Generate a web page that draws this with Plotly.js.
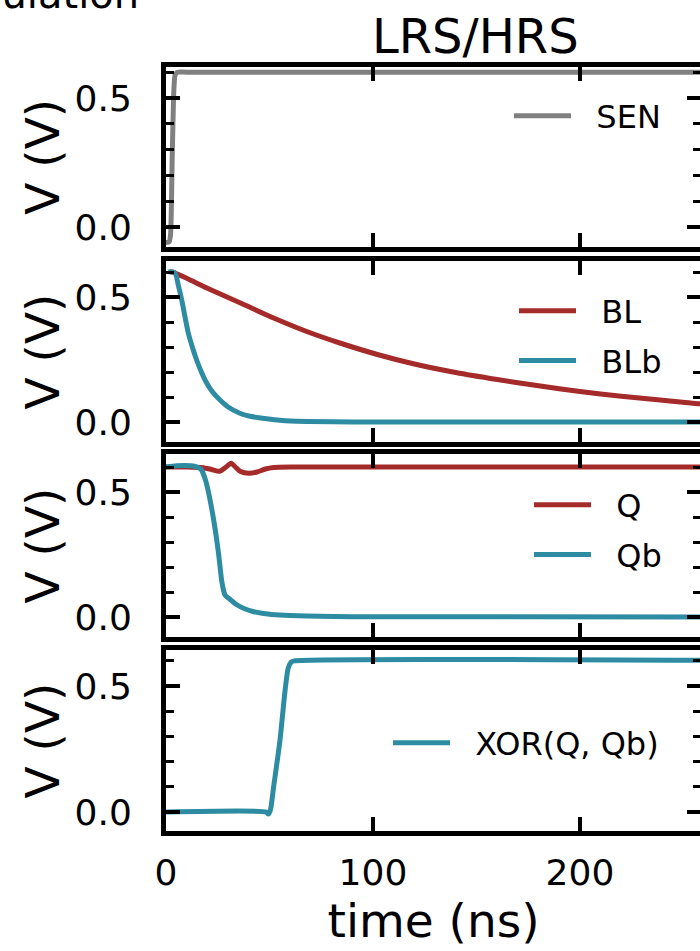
<!DOCTYPE html>
<html>
<head>
<meta charset="utf-8">
<script src="https://cdn.plot.ly/plotly-3.0.1.min.js"></script>
<style>
html, body { margin: 0; padding: 0; overflow: hidden; background: #fff; }
#chart { width: 710px; height: 951px; }
</style>
</head>
<body>
<div id="chart"></div>
<script>
// ---- data (time in ns, voltage in V) ----
const senT = [0, 1.5, 2.2, 3.0, 3.8, 4.4, 5.5, 10, 300];
const senV = [-0.06, -0.058, -0.03, 0.27, 0.53, 0.59, 0.6, 0.6, 0.6];

const blT = [2, 3, 10, 20, 36, 52, 68, 84, 103, 120, 140, 160, 180, 200, 220, 240, 258, 300];
const blV = [0.6, 0.6, 0.575, 0.535, 0.476, 0.416, 0.362, 0.316, 0.268, 0.232, 0.198, 0.17, 0.145, 0.122, 0.103, 0.087, 0.073, 0.05];

const blbT = [1.1, 4.3, 6, 7.6, 9.2, 10.8, 12.8, 14.8, 17.2, 19.7, 22.5, 26.1, 30, 35.7, 40, 45, 48.6, 55, 60, 68, 90, 300];
const blbV = [0.601, 0.597, 0.545, 0.488, 0.42, 0.355, 0.298, 0.248, 0.198, 0.155, 0.12, 0.088, 0.06, 0.035, 0.024, 0.017, 0.013, 0.007, 0.004, 0.002, 0, 0];

const qT = [0, 10, 18, 22, 26, 29, 31.5, 33.5, 36, 40, 44, 48, 52, 60, 300];
const qV = [0.6, 0.6, 0.597, 0.59, 0.583, 0.6, 0.615, 0.6, 0.582, 0.575, 0.58, 0.592, 0.598, 0.6, 0.6];

const qbT = [0, 5, 12, 15, 17, 19, 20.5, 23, 25.3, 27, 28.5, 31, 34, 38, 42, 48, 55, 68, 90, 300];
const qbV = [0.6, 0.605, 0.605, 0.6, 0.59, 0.55, 0.5, 0.39, 0.26, 0.14, 0.088, 0.07, 0.05, 0.033, 0.022, 0.013, 0.008, 0.004, 0.001, 0];

const xorT = [0, 48.5, 49.5, 50.5, 52, 55, 57.5, 59, 60.5, 62, 300];
const xorV = [0, 0, -0.008, 0.01, 0.1, 0.28, 0.48, 0.57, 0.595, 0.6, 0.6];

const seriesNames = ['SEN', 'BL', 'BLb', 'Q', 'Qb', 'XOR(Q, Qb)'];

// ---- ticks ----
const xTickVals = [0, 100, 200];
const xTickText = ['0', '100', '200'];
const yTickVals = [0, 0.5];
const yTickText = ['0.0', '0.5'];
const yMinorVals = [0.1, 0.2, 0.3, 0.4, 0.6];

// ---- text ----
const titleText = 'LRS/HRS';
const cutText = 'Simulation';
const xTitle = 'time (ns)';
const yTitle = 'V (V)';

// ---- styling ----
const RED = '#a52a2a';
const BLUE = '#2e8ca2';
const GRAY = '#808080';
const FONT = 'DejaVu Sans, sans-serif';
const LW = 5;
const SPINE = 5;
const PAD = '\u00a0\u00a0';

const W = 710, H = 951, ML = 166, MR = 9;
const plotW = W - ML - MR;
const px2x = p => (p - ML) / plotW;
const px2y = p => 1 - p / H;

const traces = [
  {x: senT, y: senV, name: PAD + seriesNames[0], line: {color: GRAY}, xaxis: 'x', yaxis: 'y', legend: 'legend'},
  {x: blT, y: blV, name: PAD + seriesNames[1], line: {color: RED}, xaxis: 'x2', yaxis: 'y2', legend: 'legend2', legendgroup: 'a'},
  {x: blbT, y: blbV, name: PAD + seriesNames[2], line: {color: BLUE}, xaxis: 'x2', yaxis: 'y2', legend: 'legend2', legendgroup: 'b'},
  {x: qT, y: qV, name: PAD + seriesNames[3], line: {color: RED}, xaxis: 'x3', yaxis: 'y3', legend: 'legend3', legendgroup: 'c'},
  {x: qbT, y: qbV, name: PAD + seriesNames[4], line: {color: BLUE}, xaxis: 'x3', yaxis: 'y3', legend: 'legend3', legendgroup: 'd'},
  {x: xorT, y: xorV, name: PAD + seriesNames[5], line: {color: BLUE}, xaxis: 'x4', yaxis: 'y4', legend: 'legend4'}
].map(t => Object.assign({type: 'scatter', mode: 'lines'}, t));
traces.forEach(t => { t.line.width = LW; t.line.shape = 'spline'; t.line.smoothing = 0.6; });

const xRange = [0, 258.5];
const common = {
  showline: true, linewidth: SPINE, linecolor: '#000', mirror: 'ticks',
  ticks: 'inside', ticklen: 14, tickwidth: 4, tickcolor: '#000',
  showgrid: false, zeroline: false, fixedrange: true,
  tickfont: {family: FONT, size: 36, color: '#000'}
};
function xAxis(anchor, labels) {
  return Object.assign({}, common, {
    anchor: anchor, domain: [0, 1], range: xRange,
    tickmode: 'array', tickvals: xTickVals, ticktext: xTickText,
    showticklabels: labels, ticklabelstandoff: 6,
    title: labels ? {text: xTitle, font: {family: FONT, size: 47, color: '#000'}, standoff: 13} : {text: ''}
  });
}
function yAxis(anchor, dom, rng) {
  return Object.assign({}, common, {
    anchor: anchor, domain: dom, range: rng,
    tickmode: 'array', tickvals: yTickVals, ticktext: yTickText,
    ticklabelstandoff: 22,
    minor: {tickmode: 'array', tickvals: yMinorVals, ticks: 'inside', ticklen: 8, tickwidth: 3, tickcolor: '#000', showgrid: false},
    title: {text: yTitle, font: {family: FONT, size: 47, color: '#000'}, standoff: 2}
  });
}

const legendBase = {
  bgcolor: 'rgba(0,0,0,0)', borderwidth: 0, xanchor: 'left', yanchor: 'middle',
  font: {family: FONT, size: 32, color: '#000'}, itemwidth: 57, tracegroupgap: 5
};

const layout = {
  width: W, height: H,
  margin: {l: ML, r: MR, t: 0, b: 0},
  paper_bgcolor: '#fff', plot_bgcolor: '#fff',
  showlegend: true,
  xaxis: xAxis('y', false),
  xaxis2: xAxis('y2', false),
  xaxis3: xAxis('y3', false),
  xaxis4: xAxis('y4', true),
  yaxis: yAxis('x', [px2y(246.75), px2y(66.75)], [-0.0766, 0.621]),
  yaxis2: yAxis('x2', [px2y(441.75), px2y(261.25)], [-0.079, 0.643]),
  yaxis3: yAxis('x3', [px2y(636.75), px2y(454.25)], [-0.079, 0.651]),
  yaxis4: yAxis('x4', [px2y(830.75), px2y(650.25)], [-0.074, 0.642]),
  legend: Object.assign({}, legendBase, {x: px2x(509), y: px2y(116)}),
  legend2: Object.assign({}, legendBase, {x: px2x(514), y: px2y(336)}),
  legend3: Object.assign({}, legendBase, {x: px2x(529), y: px2y(530)}),
  legend4: Object.assign({}, legendBase, {x: px2x(388), y: px2y(743)}),
  annotations: [
    {text: titleText, xref: 'paper', yref: 'paper', x: px2x(475), y: px2y(36), xanchor: 'center', yanchor: 'middle',
     showarrow: false, font: {family: FONT, size: 48, color: '#000'}},
    {text: cutText, xref: 'paper', yref: 'paper', x: px2x(141), y: px2y(-6), xanchor: 'right', yanchor: 'middle',
     showarrow: false, font: {family: FONT, size: 40, color: '#000'}}
  ]
};

Plotly.newPlot('chart', traces, layout, {staticPlot: true, displayModeBar: false});
</script>
</body>
</html>
